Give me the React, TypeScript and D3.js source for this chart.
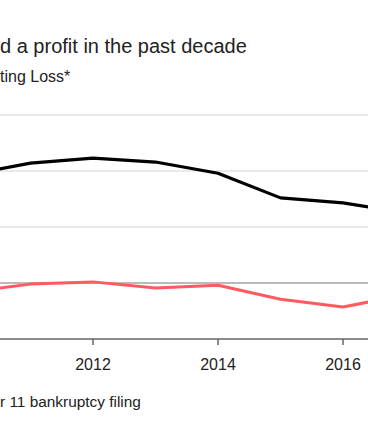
import React from 'react';
import * as d3 from 'd3';

// Chart is a cropped window of a wider Bloomberg-style graphic
const years = [2010, 2011, 2012, 2013, 2014, 2015, 2016, 2017];
const blackSeries = [1.93, 2.14, 2.23, 2.16, 1.96, 1.52, 1.43, 1.25];
const redSeries = [-0.16, -0.02, 0.02, -0.09, -0.04, -0.29, -0.43, -0.21];
const gridValues = [1, 2, 3];
const tickYears = [2012, 2014, 2016];

const titleText = 'd a profit in the past decade';
const legendText = 'ting Loss*';
const footText = 'r 11 bankruptcy filing';

export default function App() {
  const width = 368;
  const height = 445;
  const font = '"Liberation Sans", Arial, Helvetica, sans-serif';

  const x = d3.scaleLinear().domain([2012, 2016]).range([93, 343]);
  const y = d3.scaleLinear().domain([-1, 3]).range([339, 115]);

  const line = d3.line<number>()
    .x((_, i) => x(years[i]))
    .y((d) => y(d));

  return (
    <div style={{ position: 'fixed', left: 0, top: 0, background: '#fff' }}>
      <svg width={width} height={height} style={{ display: 'block' }}>
        <rect width={width} height={height} fill="#fff" />
        <text x={0} y={53} fontFamily={font} fontSize={20} fill="#222">{titleText}</text>
        <text x={0} y={82} fontFamily={font} fontSize={16} fill="#222">{legendText}</text>

        {/* gridlines */}
        {gridValues.map((v) => (
          <line key={v} x1={0} x2={width} y1={y(v)} y2={y(v)} stroke="#e3e3e3" strokeWidth={1.5} />
        ))}
        <line x1={0} x2={width} y1={y(0)} y2={y(0)} stroke="#777" strokeWidth={1.2} />

        <path d={line(blackSeries) ?? ''} fill="none" stroke="#000" strokeWidth={3.2} strokeLinejoin="round" />
        <path d={line(redSeries) ?? ''} fill="none" stroke="#ff5a60" strokeWidth={3} strokeLinejoin="round" />

        {/* x axis */}
        <line x1={0} x2={width} y1={y(-1)} y2={y(-1)} stroke="#666" strokeWidth={1.5} />
        {tickYears.map((t) => (
          <g key={t} transform={`translate(${x(t)},${y(-1)})`}>
            <line y1={0} y2={6} stroke="#666" strokeWidth={1.5} />
            <text y={31} textAnchor="middle" fontFamily={font} fontSize={16} fill="#222">{t}</text>
          </g>
        ))}

        <text x={0} y={407} fontFamily={font} fontSize={15.4} fill="#222">{footText}</text>
      </svg>
    </div>
  );
}
